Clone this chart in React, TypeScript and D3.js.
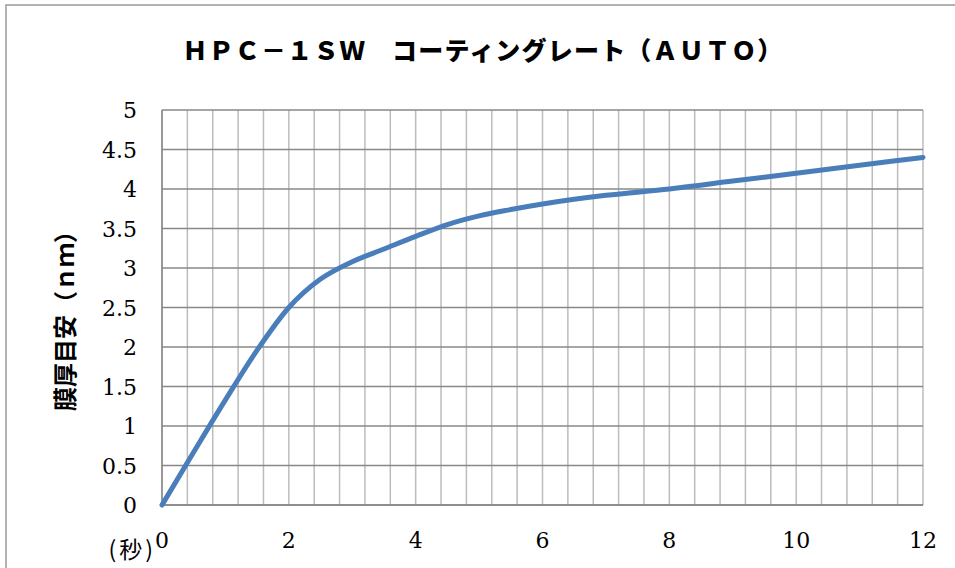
import React, { useEffect } from 'react';
import * as d3 from 'd3';

// Seconds and estimated film thickness
const seconds = [0, 0.5, 1, 1.5, 2, 2.5, 3, 3.5, 4, 4.5, 5, 5.5, 6, 7, 8, 9, 10, 11, 12];
const thickness = [0, 0.67, 1.33, 1.96, 2.5, 2.86, 3.08, 3.24, 3.4, 3.55, 3.66, 3.74, 3.81, 3.92, 4.0, 4.1, 4.2, 4.3, 4.4];

const xTicks = [0, 2, 4, 6, 8, 10, 12];
const yTicks = [0, 0.5, 1, 1.5, 2, 2.5, 3, 3.5, 4, 4.5, 5];
const xMinorStep = 0.4;

const title = 'ＨＰＣ－１ＳＷ　コーティングレート（ＡＵＴＯ）';
const yTitle = '膜厚目安（ｎｍ）';
const xUnit = '(秒)';

export default function App() {
  useEffect(() => {
    document.body.style.margin = '0';
  }, []);

  const width = 955;
  const height = 568;
  const plot = { left: 162, right: 923, top: 110, bottom: 505 };

  const x = d3.scaleLinear().domain([0, 12]).range([plot.left, plot.right]);
  const y = d3.scaleLinear().domain([0, 5]).range([plot.bottom, plot.top]);

  const minor = d3.range(0, 12 + 1e-9, xMinorStep);

  const line = d3
    .line<number>()
    .x((_, i) => x(seconds[i]))
    .y(d => y(d))
    .curve(d3.curveMonotoneX);

  const serif = '"DejaVu Serif", serif';
  const gothic = '"Noto Sans CJK JP", sans-serif';

  return (
    <svg width={width} height={height} style={{ display: 'block', background: '#fff' }}>
      {/* chart border */}
      <rect x={6} y={5} width={width + 10} height={height + 10} fill="none" stroke="#9a9a9a" strokeWidth={1.5} />

      <text x={483} y={60} textAnchor="middle" fontFamily={gothic} fontWeight={900} fontSize={25} letterSpacing={1.2} fill="#000">
        {title}
      </text>

      {/* vertical minor grid */}
      {minor.map(v => (
        <line key={'v' + v} x1={x(v)} x2={x(v)} y1={plot.top} y2={plot.bottom} stroke="#bcbcbc" strokeWidth={1.5} />
      ))}
      {/* horizontal major grid */}
      {yTicks.map(v => (
        <line key={'h' + v} x1={plot.left} x2={plot.right} y1={y(v)} y2={y(v)} stroke="#888" strokeWidth={1.5} />
      ))}
      {/* axes */}
      <line x1={plot.left} x2={plot.left} y1={plot.top} y2={plot.bottom} stroke="#868686" strokeWidth={1.5} />
      <line x1={plot.left} x2={plot.right} y1={plot.bottom} y2={plot.bottom} stroke="#868686" strokeWidth={1.5} />

      <path d={line(thickness) ?? ''} fill="none" stroke="#4a7ebb" strokeWidth={5} strokeLinecap="round" />

      {yTicks.map(v => (
        <text key={'yl' + v} x={137} y={y(v) + 8} textAnchor="end" fontFamily={serif} fontSize={22} fill="#000">
          {v}
        </text>
      ))}
      {xTicks.map(v => (
        <text key={'xl' + v} x={x(v)} y={548} textAnchor="middle" fontFamily={serif} fontSize={22} fill="#000">
          {v}
        </text>
      ))}

      <text x={156} y={558} textAnchor="end" fontFamily={gothic} fontSize={23} letterSpacing={3} fill="#000">
        {xUnit}
      </text>

      <text
        transform="translate(74,315) rotate(-90)"
        textAnchor="middle"
        fontFamily={gothic}
        fontWeight="bold"
        fontSize={24}
        fill="#000"
      >
        {yTitle}
      </text>
    </svg>
  );
}
